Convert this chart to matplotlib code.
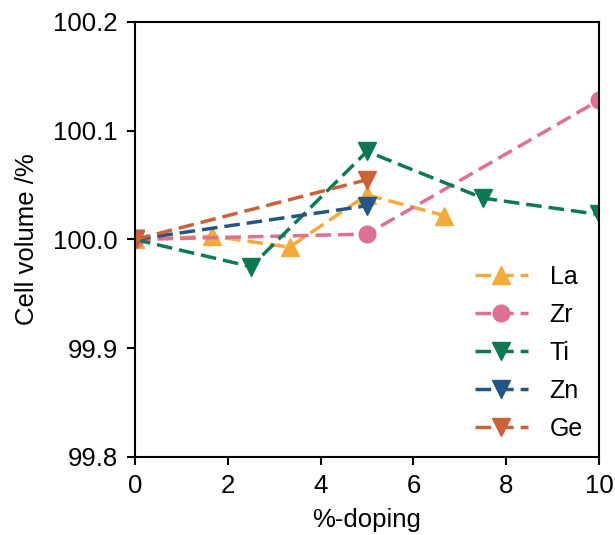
import matplotlib.pyplot as plt

plt.rcParams['font.family'] = ['Liberation Sans', 'DejaVu Sans']

# data
la_x = [0, 1.67, 3.33, 5, 6.67]
la_y = [100.0, 100.003, 99.993, 100.041, 100.022]

zr_x = [0, 5, 10]
zr_y = [100.0, 100.005, 100.128]

ti_x = [0, 2.5, 5, 7.5, 10]
ti_y = [100.0, 99.975, 100.081, 100.038, 100.023]

zn_x = [0, 5]
zn_y = [100.0, 100.031]

ge_x = [0, 5]
ge_y = [100.0, 100.055]

series = [
    ('La', la_x, la_y, '^', '#F4AA3C', 13.5),
    ('Zr', zr_x, zr_y, 'o', '#DE7095', 12),
    ('Ti', ti_x, ti_y, 'v', '#0B7A50', 13.5),
    ('Zn', zn_x, zn_y, 'v', '#235682', 13.5),
    ('Ge', ge_x, ge_y, 'v', '#CC623A', 13.5),
]

fig = plt.figure(figsize=(6.15, 5.35), dpi=100)
ax = fig.add_axes([0.2195, 0.1458, 0.7545, 0.8131])

for name, xs, ys, mk, col, ms in series:
    ax.plot(xs, ys, linestyle='--', marker=mk, color=col, label=name,
            linewidth=2.5, markersize=ms, dashes=(4.5, 2))

ax.set_xlim(0, 10)
ax.set_ylim(99.8, 100.2)
ax.set_xticks([0, 2, 4, 6, 8, 10])
ax.set_yticks([99.8, 99.9, 100.0, 100.1, 100.2])
ax.set_xlabel('%-doping', fontsize=18.5, labelpad=7)
ax.set_ylabel('Cell volume /%', fontsize=18.5, labelpad=10)
ax.tick_params(labelsize=18.5, width=1.5, length=5.5, pad=7)
for s in ax.spines.values():
    s.set_linewidth(1.5)

ax.legend(loc='lower right', frameon=False, fontsize=18, handlelength=2.15,
          handletextpad=0.85, labelspacing=0.56, borderaxespad=0.25)

plt.savefig('out.png', dpi=100)
